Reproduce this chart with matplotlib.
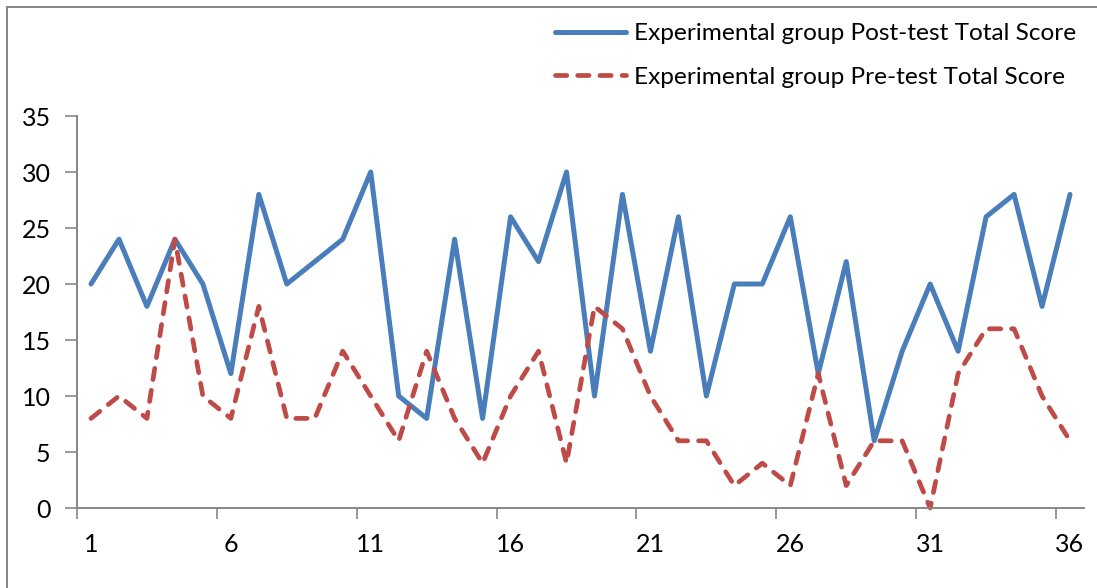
import numpy as np
import matplotlib.pyplot as plt
from matplotlib.lines import Line2D

# Scores per student (1..36)
students = np.arange(1, 37)
post_test = [20, 24, 18, 24, 20, 12, 28, 20, 22, 24, 30, 10, 8, 24, 8, 26, 22, 30,
             10, 28, 14, 26, 10, 20, 20, 26, 12, 22, 6, 14, 20, 14, 26, 28, 18, 28]
pre_test = [8, 10, 8, 24, 10, 8, 18, 8, 8, 14, 10, 6, 14, 8, 4, 10, 14, 4,
            18, 16, 10, 6, 6, 2, 4, 2, 12, 2, 6, 6, 0, 12, 16, 16, 10, 6]
post_label = 'Experimental group Post-test Total Score'
pre_label = 'Experimental group Pre-test Total Score'
x_labels = [1, 6, 11, 16, 21, 26, 31, 36]
y_ticks = [0, 5, 10, 15, 20, 25, 30, 35]

plt.rcParams['font.family'] = ['Lato', 'DejaVu Sans']
axis_grey = '#868686'
tick_fs = 18
leg_fs = 17.6

W, H = 1097, 588
fig = plt.figure(figsize=(W / 100, H / 100), dpi=100)
ax = fig.add_axes([77 / W, 1 - 508 / H, (1084 - 77) / W, (508 - 116) / H])

ax.plot(students, post_test, color='#4a7ebb', lw=3.6, solid_capstyle='round',
        solid_joinstyle='round', label=post_label, clip_on=False)
ax.plot(students, pre_test, color='#be4b48', lw=3.4, dashes=(2.4, 2.3),
        dash_capstyle='round', dash_joinstyle='round', label=pre_label, clip_on=False)

ax.set_xlim(0.5, 36.5)
ax.set_ylim(0, 35)

# tick marks sit on category boundaries, labels on category centres
ax.set_xticks(np.arange(0.5, 37, 5))
ax.set_xticklabels([])
ax.set_xticks(x_labels, minor=True)
ax.set_xticklabels([str(v) for v in x_labels], minor=True)
ax.tick_params(axis='x', which='major', length=8, width=1.2, color=axis_grey, direction='out')
ax.tick_params(axis='x', which='minor', length=0, pad=18, labelsize=tick_fs)

ax.set_yticks(y_ticks)
ax.set_yticklabels([str(v) for v in y_ticks])
ax.tick_params(axis='y', length=9, width=1.2, color=axis_grey, pad=10, labelsize=tick_fs)

for side in ['top', 'right']:
    ax.spines[side].set_visible(False)
for side in ['left', 'bottom']:
    ax.spines[side].set_color(axis_grey)
    ax.spines[side].set_linewidth(1.4)

leg = ax.legend(loc='upper left', bbox_to_anchor=(555 / W, 1 - 23 / H),
                bbox_transform=fig.transFigure, frameon=False, fontsize=leg_fs,
                handlelength=2.9, handletextpad=0.33, labelspacing=0.92,
                borderaxespad=0, borderpad=0)

# chart frame (only top and left edges are inside the canvas)
fig.add_artist(Line2D([7 / W, 7 / W], [0, 1 - 7 / H], transform=fig.transFigure,
                      color=axis_grey, lw=1.4))
fig.add_artist(Line2D([7 / W, 1], [1 - 7 / H, 1 - 7 / H], transform=fig.transFigure,
                      color=axis_grey, lw=1.4))

fig.savefig('out.png', dpi=100)
